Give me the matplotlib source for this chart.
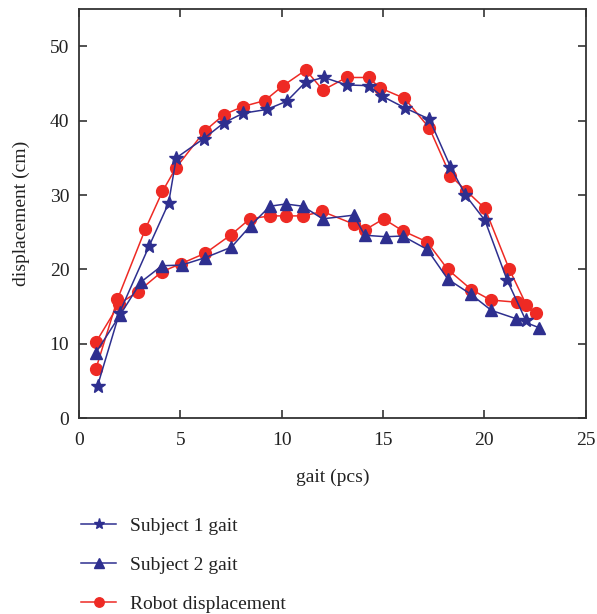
import matplotlib
matplotlib.use('Agg')
import matplotlib.pyplot as plt

# values
s1_x = [0.92, 2.0, 3.47, 4.42, 4.80, 6.16, 7.15, 8.10, 9.26, 10.25, 11.19, 12.09,
        13.2, 14.29, 14.95, 16.09, 17.29, 18.33, 19.07, 20.03, 21.12, 22.04]
s1_y = [4.4, 14.2, 23.2, 28.9, 35.0, 37.6, 39.7, 41.0, 41.5, 42.6, 45.2, 45.8,
        44.8, 44.7, 43.3, 41.7, 40.2, 33.8, 30.0, 26.6, 18.6, 13.2]

s2_x = [0.83, 2.03, 3.05, 4.09, 5.08, 6.24, 7.52, 8.47, 9.42, 10.2, 11.05, 12.02,
        13.55, 14.1, 15.15, 15.97, 17.18, 18.2, 19.32, 20.35, 21.55, 22.68]
s2_y = [8.8, 13.9, 18.3, 20.5, 20.6, 21.6, 23.0, 25.9, 28.5, 28.8, 28.5, 26.8,
        27.3, 24.6, 24.4, 24.5, 22.7, 18.7, 16.7, 14.5, 13.4, 12.2]

# robot follows each subject -> two curves, one legend entry
r1_x = [0.83, 1.9, 3.27, 4.12, 4.77, 6.2, 7.15, 8.09, 9.17, 10.07, 11.19, 12.04,
        13.2, 14.29, 14.85, 16.06, 17.29, 18.33, 19.1, 20.03, 21.22, 22.08]
r1_y = [6.6, 16.0, 25.4, 30.5, 33.6, 38.6, 40.8, 41.9, 42.7, 44.7, 46.8, 44.1,
        45.8, 45.8, 44.4, 43.0, 39.0, 32.6, 30.6, 28.2, 20.1, 15.2]

r2_x = [0.83, 1.99, 2.9, 4.09, 5.05, 6.24, 7.52, 8.43, 9.41, 10.23, 11.07, 12.01,
        13.55, 14.1, 15.03, 15.97, 17.18, 18.2, 19.36, 20.31, 21.6, 22.57]
r2_y = [10.2, 15.4, 17.0, 19.7, 20.8, 22.2, 24.7, 26.8, 27.2, 27.2, 27.2, 27.8,
        26.1, 25.3, 26.8, 25.2, 23.7, 20.0, 17.3, 15.9, 15.6, 14.1]

blue = '#2e2f8f'
red = '#ee2a24'

plt.rcParams['font.family'] = ['Liberation Serif', 'DejaVu Serif']

fig = plt.figure(figsize=(5.97, 6.14), dpi=100)
ax = fig.add_axes([0.1323, 0.3187, 0.8487, 0.6666])

ax.plot(r1_x, r1_y, color=red, lw=1.1, marker='o', ms=8.5, zorder=2)
ax.plot(r2_x, r2_y, color=red, lw=1.1, marker='o', ms=8.5, zorder=2)
ax.plot(s1_x, s1_y, color=blue, lw=1.1, marker='*', ms=10, zorder=3, label='Subject 1 gait')
ax.plot(s2_x, s2_y, color=blue, lw=1.1, marker='^', ms=8.5, zorder=3, label='Subject 2 gait')
ax.plot([], [], color=red, lw=1.1, marker='o', ms=8.5, label='Robot displacement')

ax.set_xlim(0, 25)
ax.set_ylim(0, 55)
ax.set_xticks([0, 5, 10, 15, 20, 25])
ax.set_yticks([0, 10, 20, 30, 40, 50])
ax.tick_params(direction='in', top=True, right=True, length=6, width=1.2,
               labelsize=14, color='#333333', labelcolor='#222222')
ax.tick_params(axis='y', pad=7)
ax.tick_params(axis='x', pad=10)
for s in ax.spines.values():
    s.set_linewidth(1.3)
    s.set_color('#333333')
ax.set_xlabel('gait (pcs)', fontsize=14, labelpad=14, color='#222222')
ax.set_ylabel('displacement (cm)', fontsize=14, labelpad=14, color='#222222')

handles, labels = ax.get_legend_handles_labels()
fig.legend(handles, labels, loc='upper left', bbox_to_anchor=(0.107, 0.186),
           frameon=False, fontsize=14, labelspacing=1.1, handlelength=1.8,
           handletextpad=0.7, markerscale=0.8, labelcolor='#222222')

fig.savefig('out.png', dpi=100)
